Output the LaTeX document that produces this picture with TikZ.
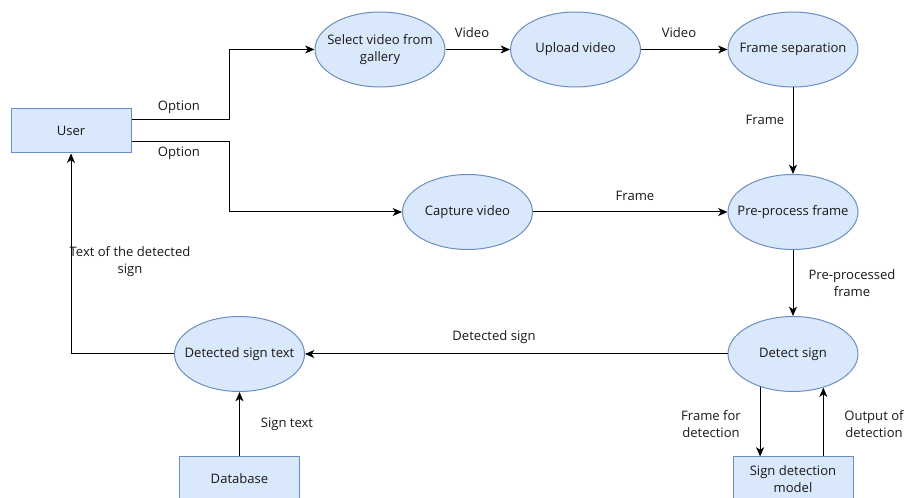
\documentclass[tikz,border=0pt]{standalone}
\usepackage{fontspec}
\setmainfont{Open Sans}
\usetikzlibrary{shapes.geometric,arrows.meta}
\definecolor{boxfill}{HTML}{DAE8FC}
\definecolor{boxline}{HTML}{6C8EBF}
\begin{document}
\begin{tikzpicture}[x=0.75pt,y=-0.75pt,
  every node/.style={font=\fontsize{9.8}{12.8}\selectfont, text=black!90},
  proc/.style={ellipse, draw=boxline, fill=boxfill, line width=0.75pt, minimum width=97.5pt, minimum height=56.25pt, inner xsep=-15pt, inner ysep=0pt, align=center},
  ent/.style={rectangle, draw=boxline, fill=boxfill, line width=0.75pt, minimum width=90pt, minimum height=33pt, inner sep=0pt, align=center},
  lbl/.style={align=center, inner sep=0pt},
  flow/.style={draw=black, line width=0.75pt, -{Stealth[length=7pt,width=6pt,inset=2pt]}}]
\useasboundingbox (0,0) rectangle (908,498);
\fill[white] (0,0) rectangle (908,498);
% entities
\node[ent] (user) at (71,131) {User};
\node[ent] (db) at (239.5,479) {Database};
\node[ent] (model) at (793,479) {Sign detection\\model};
% processes
\node[proc] (sel) at (380,49.5) {Select video from\\gallery};
\node[proc] (up) at (575.5,49.5) {Upload video};
\node[proc] (fs) at (793,49.5) {Frame separation};
\node[proc] (cap) at (467.5,212) {Capture video};
\node[proc] (pre) at (793,212) {Pre-process frame};
\node[proc] (det) at (793,354) {Detect sign};
\node[proc] (dst) at (239.5,354) {Detected sign text};
% connectors
\draw[flow] ([yshift=8.25pt]user.east) -- ++(98,0) |- (sel.west);
\draw[flow] ([yshift=-8.25pt]user.east) -- ++(98,0) |- (cap.west);
\draw[flow] (sel.east) -- (up.west);
\draw[flow] (up.east) -- (fs.west);
\draw[flow] (fs.south) -- (pre.north);
\draw[flow] (cap.east) -- (pre.west);
\draw[flow] (pre.south) -- (det.north);
\draw[flow] (det.west) -- (dst.east);
\draw[flow] (dst.west) -| (user.south);
\draw[flow] (db.north) -- (dst.south);
\draw[flow] (det.225.5) -- (det.225.5 |- model.north);
\draw[flow] (det.312 |- model.north) -- (det.312);
% labels
\node[lbl] (l1) at (179,107) {Option};
\node[lbl] (l2) at (179,153) {Option};
\node[lbl] (l3) at (472,33) {Video};
\node[lbl] (l4) at (679,33) {Video};
\node[lbl] (l5) at (765,120) {Frame};
\node[lbl] (l6) at (635,196) {Frame};
\node[lbl] (l7) at (852,283) {Pre-processed\\frame};
\node[lbl] (l8) at (494,337) {Detected sign};
\node[lbl] (l9) at (711,424.5) {Frame for\\detection};
\node[lbl] (l10) at (874,424.5) {Output of\\detection};
\node[lbl] (l11) at (130,261.5) {Text of the detected\\sign};
\node[lbl] (l12) at (287,424) {Sign text};
\end{tikzpicture}
\end{document}
